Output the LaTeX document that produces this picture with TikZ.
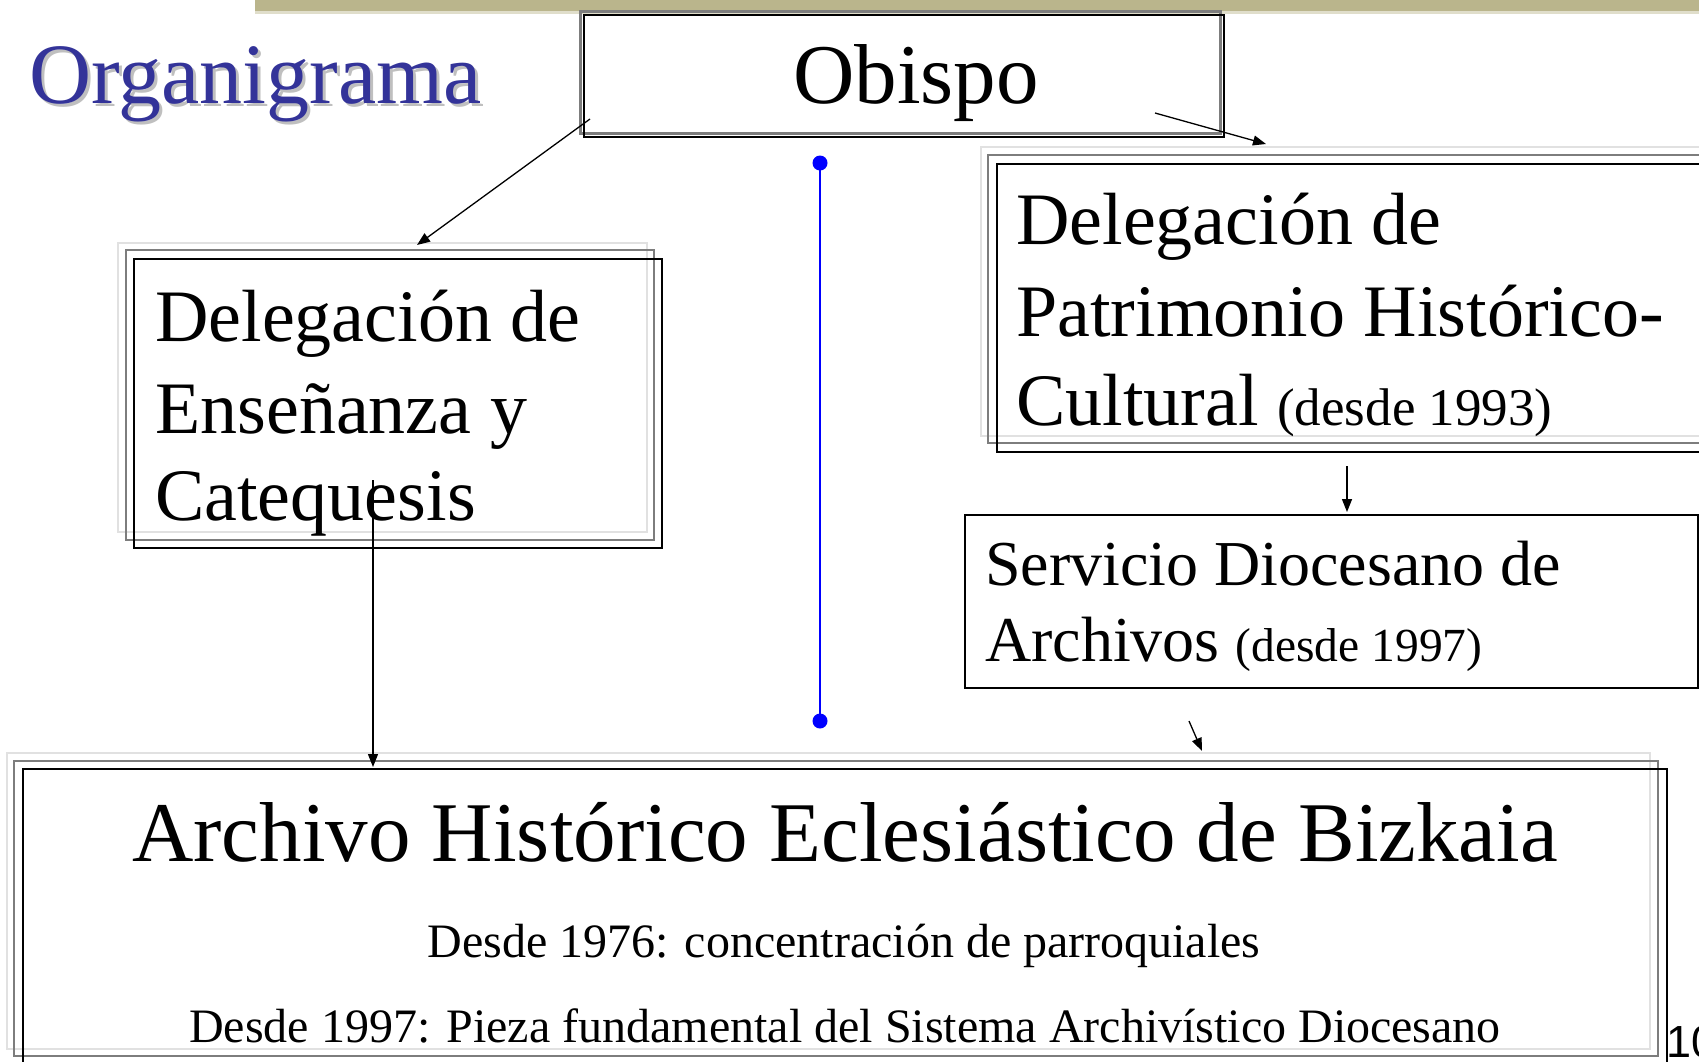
\documentclass[tikz,border=0pt]{standalone}
\usepackage{fontspec}
\setmainfont{Liberation Serif}
\newfontfamily\slidesans{Liberation Sans}
\usetikzlibrary{arrows.meta}
\definecolor{titleblue}{RGB}{51,51,153}
\definecolor{bandkhaki}{RGB}{186,181,140}
\definecolor{framegray}{RGB}{125,125,125}
\definecolor{framelight}{RGB}{225,225,225}
\tikzset{
  conn/.style={line width=1.3pt, -{Triangle[length=13pt,width=10pt]}},
  fr/.style={line width=1.8pt, draw=black},
  frgray/.style={line width=1.8pt, draw=framegray},
  frlight/.style={line width=1.8pt, draw=framelight},
  txt/.style={inner sep=0pt, anchor=base west},
  big/.style={font=\fontsize{74}{90}\selectfont},
}
\begin{document}
\begin{tikzpicture}[x=1pt,y=-1pt]
\useasboundingbox (0,0) rectangle (1699,1061);
\clip (0,0) rectangle (1699,1061);
\fill[white] (0,0) rectangle (1699,1061);
% top band
\fill[bandkhaki] (255,0) rectangle (1699,11);
\fill[bandkhaki!45] (255,11) rectangle (1699,14);

% title
\node[txt, text=gray!50, font=\fontsize{86}{90}\selectfont] (titleshadow) at (32,106) {Organigrama};
\node[txt, text=titleblue, font=\fontsize{86}{90}\selectfont] (title) at (29,103) {Organigrama};

% Obispo box
\draw[line width=3pt, draw=framegray] (580,11) rectangle (1220,133);
\node[line width=2pt, draw=black, anchor=north west, minimum width=640pt, minimum height=122pt, inner sep=0pt] (obispo) at (583,14) {};
\node[inner sep=0pt, anchor=base, font=\fontsize{85}{90}\selectfont] (obispotxt) at (916,103) {Obispo};

% left box
\draw[frlight] (118,243) rectangle (647,532);
\draw[frgray] (126,250) rectangle (654,540);
\node[fr, anchor=north west, minimum width=528pt, minimum height=289pt, inner sep=0pt] (ense) at (133,258) {};
\node[txt, big] (ense1) at (155,341) {Delegación de};
\node[txt, big] (ense2) at (155,433) {Enseñanza y};
\node[txt, big] (ense3) at (155,520) {Catequesis};

% right box
\draw[frlight] (981,147) rectangle (1720,436);
\draw[frgray] (988,155) rectangle (1727,443);
\node[fr, anchor=north west, minimum width=740pt, minimum height=288pt, inner sep=0pt] (patri) at (996,163) {};
\node[txt, big] (patri1) at (1016,244) {Delegación de};
\node[txt, big] (patri2) at (1016,336) {Patrimonio Histórico-};
\node[txt, big] (patri3) at (1016,425) {Cultural {\fontsize{53}{60}\selectfont(desde 1993)}};

% Servicio box
\node[line width=1.5pt, draw=black, anchor=north west, minimum width=733pt, minimum height=173pt, inner sep=0pt] (serv) at (964,514) {};
\node[txt, font=\fontsize{64}{76}\selectfont] (serv1) at (985,585) {Servicio Diocesano de};
\node[txt, font=\fontsize{64}{76}\selectfont] (serv2) at (985,661) {Archivos {\fontsize{47.5}{50}\selectfont(desde 1997)}};

% Archivo box
\draw[frlight] (7,753) rectangle (1650,1049);
\draw[frgray] (14,761) rectangle (1658,1056);
\node[fr, anchor=north west, minimum width=1644pt, minimum height=320pt, inner sep=0pt] (ahe) at (22,768) {};
\node[inner sep=0pt, anchor=base, font=\fontsize{85}{90}\selectfont] (ahe1) at (845,861) {Archivo Histórico Eclesiástico de Bizkaia};
\node[inner sep=0pt, anchor=base, font=\fontsize{48}{50}\selectfont] (ahe2) at (844,957) {Desde 1976: concentración de parroquiales};
\node[inner sep=0pt, anchor=base, font=\fontsize{48}{50}\selectfont] (ahe3) at (845,1042) {Desde 1997: Pieza fundamental del Sistema Archivístico Diocesano};

% slide number (cut off at the right edge, as in the reference)
\node[txt, font=\slidesans\fontsize{45}{50}\selectfont] (pagenum) at (1666,1057) {10};

% blue line
\coordinate (bluetop) at (820,163);
\coordinate (bluebot) at (820,721);
\draw[blue, line width=2.5pt] (bluetop) -- (bluebot);
\fill[blue] (bluetop) circle (7.5pt);
\fill[blue] (bluebot) circle (7.5pt);

% connector end points
\coordinate (a1s) at (590,119);
\coordinate (a1e) at (417,245);
\coordinate (a2s) at (1155,113);
\coordinate (a2e) at (1266,144);
\coordinate (a3s) at (373,480);
\coordinate (a3e) at (373,767);
\coordinate (a4s) at (1347,466);
\coordinate (a4e) at (1347,512);
\coordinate (a5s) at (1189,721);
\coordinate (a5e) at (1202,751);

\draw[conn] (a1s) -- (a1e);
\draw[conn] (a2s) -- (a2e);
\draw[conn] (a3s) -- (a3e);
\draw[conn] (a4s) -- (a4e);
\draw[conn] (a5s) -- (a5e);
\end{tikzpicture}
\end{document}
